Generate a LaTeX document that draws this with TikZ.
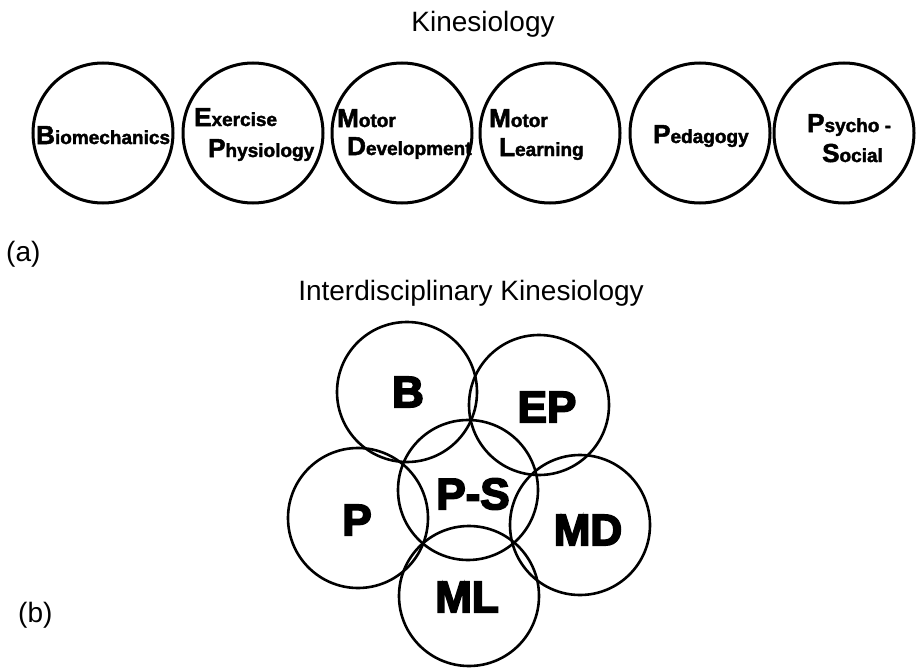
\documentclass[tikz,border=0pt]{standalone}
\usepackage{fontspec}
\setmainfont{Liberation Sans}[BoldFeatures={FakeBold=2}]
\newfontfamily\heavy{Liberation Sans}[BoldFeatures={FakeBold=4}]
\newcommand{\initial}[2]{{\fontsize{26}{28}\selectfont #1}{\fontsize{19}{22}\selectfont #2}}
\begin{document}
\begin{tikzpicture}[x=1pt,y=-1pt,
  kcircle/.style={draw, circle, line width=3pt, minimum size=140pt, inner sep=0pt},
  icircle/.style={draw, circle, line width=2.6pt, minimum size=140pt, inner sep=0pt},
  field/.style={anchor=base west, inner sep=0pt, font=\bfseries},
  abbrev/.style={inner sep=0pt, font=\heavy\bfseries\fontsize{44}{48}\selectfont},
  title/.style={anchor=base, inner sep=0pt, font=\fontsize{28}{32}\selectfont}]
\useasboundingbox (0,0) rectangle (916,669);
% (a) separate fields
\node[title] (kin) at (483,32) {Kinesiology};
\node[kcircle] (bio) at (103,133) {};
\node[kcircle] (exp) at (253,133) {};
\node[kcircle] (mdev) at (402,133) {};
\node[kcircle] (mlea) at (550,133) {};
\node[kcircle] (ped) at (700,133) {};
\node[kcircle] (psy) at (844,133) {};
\node[field] (biol) at (36,144) {\initial{B}{iomechanics}};
\node[field] (expa) at (194,126) {\initial{E}{xercise}};
\node[field] (expb) at (208,157) {\initial{P}{hysiology}};
\node[field] (mdeva) at (337,127) {\initial{M}{otor}};
\node[field] (mdevb) at (347,155) {\initial{D}{evelopment}};
\node[field] (mleaa) at (489,127) {\initial{M}{otor}};
\node[field] (mleab) at (499,156) {\initial{L}{earning}};
\node[field] (pedl) at (653,143) {\initial{P}{edagogy}};
\node[field] (psya) at (807,132) {\initial{P}{sycho -}};
\node[field] (psyb) at (822,162) {\initial{S}{ocial}};
\node[anchor=base west, inner sep=0pt, font=\fontsize{28}{32}\selectfont] (lba) at (6,261) {(a)};
% (b) overlapping fields
\node[title] (ikin) at (471,300) {Interdisciplinary Kinesiology};
\node[icircle] (b) at (407,392) {};
\node[icircle] (ep) at (539,405) {};
\node[icircle] (ps) at (468,490) {};
\node[icircle] (p) at (358,518) {};
\node[icircle] (md) at (580,525) {};
\node[icircle] (ml) at (469,596) {};
\node[abbrev] (bl) at (408,392) {B};
\node[abbrev] (epl) at (547,407) {EP};
\node[abbrev] (psl) at (473,494) {P-S};
\node[abbrev] (pl) at (357,520) {P};
\node[abbrev] (mdl) at (588,530) {MD};
\node[abbrev] (mll) at (467,597) {ML};
\node[anchor=base west, inner sep=0pt, font=\fontsize{28}{32}\selectfont] (lbb) at (18,622) {(b)};
\end{tikzpicture}
\end{document}
